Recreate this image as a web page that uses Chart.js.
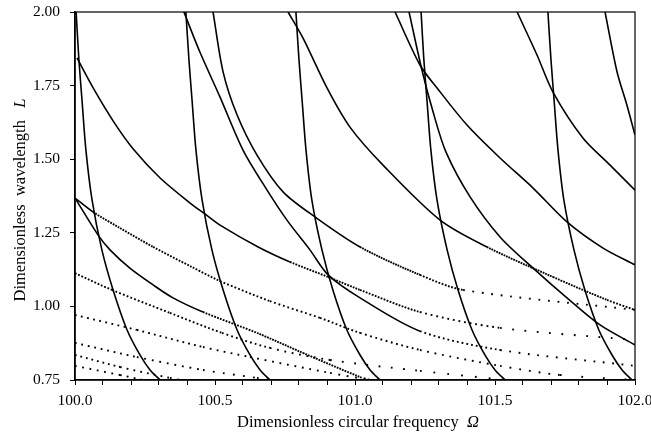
<!DOCTYPE html>
<html>
<head>
<meta charset="utf-8">
<script src="https://cdn.jsdelivr.net/npm/chart.js@4"></script>
<style>
  html, body { margin: 0; padding: 0; background: #fff; }
</style>
</head>
<body>
<canvas id="chart" width="651" height="438"></canvas>
<script>
// Steep branches [Omega, L]
const curveS1 = [[100.004, 2.000], [100.014, 1.837], [100.025, 1.701], [100.039, 1.531], [100.061, 1.361], [100.096, 1.192], [100.136, 1.056], [100.186, 0.920], [100.232, 0.835], [100.268, 0.784], [100.304, 0.750]];
const curveS2 = [[100.396, 2.000], [100.407, 1.837], [100.418, 1.701], [100.432, 1.531], [100.454, 1.361], [100.489, 1.192], [100.529, 1.056], [100.579, 0.920], [100.625, 0.835], [100.661, 0.784], [100.696, 0.750]];
const curveS3 = [[100.789, 2.000], [100.800, 1.837], [100.811, 1.701], [100.825, 1.531], [100.846, 1.361], [100.882, 1.192], [100.921, 1.056], [100.971, 0.920], [101.018, 0.835], [101.054, 0.784], [101.089, 0.750]];
const curveS4 = [[101.236, 2.000], [101.246, 1.837], [101.257, 1.701], [101.271, 1.531], [101.293, 1.361], [101.329, 1.192], [101.368, 1.056], [101.418, 0.920], [101.464, 0.835], [101.500, 0.784], [101.536, 0.750]];
const curveS5 = [[101.689, 2.000], [101.700, 1.837], [101.711, 1.701], [101.725, 1.531], [101.746, 1.361], [101.782, 1.192], [101.821, 1.056], [101.871, 0.920], [101.918, 0.835], [101.954, 0.784], [101.989, 0.750]];

// Sloping branches
const curveA = [[100.007, 1.844], [100.071, 1.732], [100.143, 1.620], [100.211, 1.531], [100.304, 1.436], [100.411, 1.351], [100.464, 1.314], [100.518, 1.276], [100.654, 1.202], [100.768, 1.151], [100.904, 1.100], [101.018, 1.056], [101.232, 0.981], [101.518, 0.927], [102.000, 0.886]];
const curveB = [[100.389, 2.000], [100.446, 1.864], [100.518, 1.711], [100.600, 1.531], [100.686, 1.395], [100.757, 1.293], [100.839, 1.192], [100.904, 1.107], [101.018, 1.029], [101.232, 0.916], [101.518, 0.852], [102.000, 0.798]];
const curveC = [[100.493, 2.000], [100.529, 1.796], [100.579, 1.650], [100.650, 1.514], [100.743, 1.389], [100.857, 1.304], [101.018, 1.202], [101.232, 1.107], [101.386, 1.056], [102.000, 0.988]];
const curveD = [[100.761, 2.000], [100.814, 1.912], [100.900, 1.742], [100.982, 1.609], [101.100, 1.480], [101.304, 1.293], [101.471, 1.202], [101.707, 1.100], [101.900, 1.022], [102.000, 0.988]];
const curveG = [[101.143, 2.000], [101.232, 1.820], [101.293, 1.742], [101.400, 1.616], [101.518, 1.504], [101.636, 1.402], [101.757, 1.287], [101.886, 1.198], [102.000, 1.141]];
const curveH = [[101.193, 2.000], [101.239, 1.803], [101.279, 1.660], [101.325, 1.524], [101.411, 1.372], [101.518, 1.236], [101.636, 1.130], [101.757, 1.029], [101.875, 0.937], [102.000, 0.869]];
const curveI = [[101.579, 2.000], [101.650, 1.854], [101.707, 1.728], [101.814, 1.572], [101.911, 1.480], [102.000, 1.395]];
const curveJ = [[101.893, 2.000], [101.936, 1.796], [101.971, 1.684], [102.000, 1.582]];
const curveF = [[100.000, 1.368], [100.082, 1.243], [100.125, 1.192], [100.196, 1.130], [100.279, 1.073], [100.350, 1.029], [100.457, 0.981], [100.650, 0.910], [100.814, 0.842], [101.018, 0.760], [101.054, 0.750]];

// Low, flat branches (dotted from the start)
const curveE1 = [[100.000, 1.368], [100.064, 1.321], [100.161, 1.266], [100.279, 1.202], [100.411, 1.137], [100.518, 1.086], [100.696, 1.018], [100.875, 0.961], [101.018, 0.910], [101.232, 0.852], [101.518, 0.798], [101.732, 0.767], [101.993, 0.750]];
const curveE2 = [[100.000, 1.113], [100.132, 1.056], [100.339, 0.978], [100.525, 0.910], [100.696, 0.859], [100.911, 0.818], [101.232, 0.781], [101.536, 0.750]];
const curveE3 = [[100.000, 0.971], [100.221, 0.920], [100.457, 0.862], [100.625, 0.828], [100.911, 0.774], [101.054, 0.750]];
const curveE4 = [[100.000, 0.876], [100.221, 0.828], [100.457, 0.784], [100.650, 0.757], [100.696, 0.750]];
const curveE5 = [[100.000, 0.835], [100.161, 0.794], [100.339, 0.757], [100.375, 0.750]];
const curveE6 = [[100.000, 0.798], [100.161, 0.767], [100.243, 0.750]];

const steepCurves = [curveS1, curveS2, curveS3, curveS4, curveS5,
  curveA, curveB, curveC, curveD, curveG, curveH, curveI, curveJ, curveF];
const flatCurves = [curveE1, curveE2, curveE3, curveE4, curveE5, curveE6];

const xLabels = [100.0, 100.5, 101.0, 101.5, 102.0];
const yTicks = [0.75, 1.00, 1.25, 1.50, 1.75, 2.00];

// points sit at a fixed step in L, so the flat parts of a branch come out dotted
function makeDash(step) {
  return ctx => {
    const dx = Math.abs(ctx.p1.x - ctx.p0.x);
    const dy = Math.abs(ctx.p1.y - ctx.p0.y);
    const m = dy / Math.max(dx, 0.001);
    const gap = step * Math.sqrt(1 + 1 / (m * m)) - 1.8;
    return gap < 0.8 ? [] : [1.8, gap];
  };
}

function makeDataset(c, step) {
  const dash = makeDash(step);
  return {
    data: c.map(p => ({ x: p[0], y: p[1] })),
    showLine: true,
    borderColor: '#000',
    borderWidth: 1.6,
    pointRadius: 0,
    tension: 0.3,
    segment: {
      borderDash: dash,
      borderWidth: ctx => dash(ctx).length ? 1.9 : 1.6
    }
  };
}

const serif = 'Liberation Serif';

function drawMixed(ctx, parts, cx, y) {
  let total = 0;
  parts.forEach(p => {
    ctx.font = p[1] + ' 16.5px "' + serif + '"';
    total += ctx.measureText(p[0]).width;
  });
  let x = cx - total / 2;
  parts.forEach(p => {
    ctx.font = p[1] + ' 16.5px "' + serif + '"';
    ctx.fillText(p[0], x, y);
    x += ctx.measureText(p[0]).width;
  });
}

const frameAndTitles = {
  id: 'frameAndTitles',
  afterDraw(chart) {
    const { ctx, chartArea: a } = chart;
    ctx.save();
    ctx.strokeStyle = '#000';
    ctx.lineWidth = 1.2;
    ctx.strokeRect(a.left, a.top, a.right - a.left, a.bottom - a.top);
    ctx.fillStyle = '#000';
    ctx.textBaseline = 'alphabetic';
    drawMixed(ctx, [['Dimensionless circular frequency  ', 'normal'], ['\u03A9', 'italic']], 358, 427);
    ctx.translate(25, 200);
    ctx.rotate(-Math.PI / 2);
    drawMixed(ctx, [['Dimensionless  wavelength   ', 'normal'], ['L', 'italic']], 0, 0);
    ctx.restore();
  }
};

new Chart(document.getElementById('chart'), {
  type: 'scatter',
  data: {
    datasets: steepCurves.map(c => makeDataset(c, 1.1))
      .concat(flatCurves.map(c => makeDataset(c, 1.47)))
  },
  options: {
    responsive: false,
    devicePixelRatio: 1,
    animation: false,
    layout: { padding: { top: 12, right: 16, left: 0, bottom: 0 } },
    plugins: { legend: { display: false }, tooltip: { enabled: false } },
    scales: {
      x: {
        type: 'linear',
        min: 100,
        max: 102,
        afterFit: s => { s.height = 58; s.paddingLeft = 0; s.paddingRight = 0; },
        ticks: {
          stepSize: 0.1,
          autoSkip: false,
          maxRotation: 0,
          padding: 7,
          color: '#000',
          font: { family: serif, size: 15.5 },
          callback: v => xLabels.some(l => Math.abs(l - v) < 1e-6) ? v.toFixed(1) : ''
        },
        grid: { drawOnChartArea: false, drawTicks: true, tickLength: 5, tickColor: '#000' },
        border: { display: true, color: '#000', width: 1.6 }
      },
      y: {
        min: 0.75,
        max: 2,
        afterFit: s => { s.width = 75; s.paddingTop = 0; s.paddingBottom = 0; },
        afterBuildTicks: s => { s.ticks = yTicks.map(v => ({ value: v })); },
        ticks: {
          padding: 10,
          color: '#000',
          font: { family: serif, size: 15.5 },
          callback: v => v.toFixed(2)
        },
        grid: { drawOnChartArea: false, drawTicks: true, tickLength: 5, tickColor: '#000' },
        border: { display: true, color: '#000', width: 1.6 }
      }
    }
  },
  plugins: [frameAndTitles]
});
</script>
</body>
</html>
